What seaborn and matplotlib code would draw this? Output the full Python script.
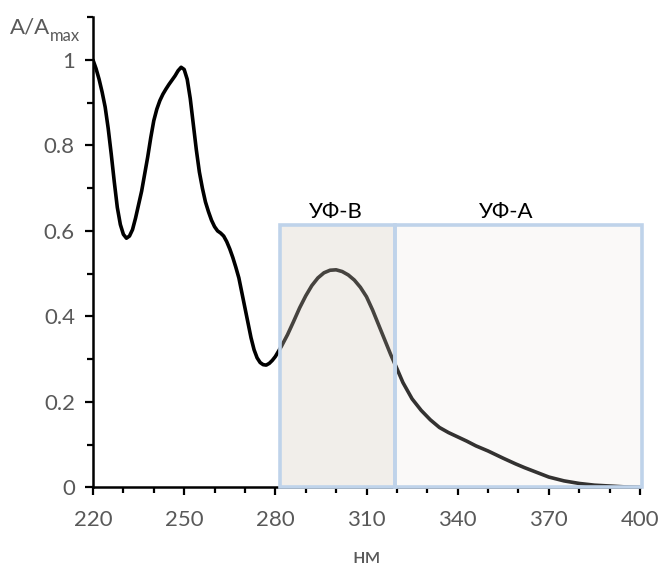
import numpy as np
import pandas as pd
import matplotlib
matplotlib.use("Agg")
import matplotlib.pyplot as plt
import seaborn as sns
from matplotlib.patches import Rectangle

# ---- data ----
wavelength = [220, 221, 222, 223, 224, 225, 226, 227, 228, 229, 230, 231, 232, 233, 234,
              236, 238, 239, 240, 241, 242, 243, 244, 245, 246, 247, 248, 249, 250, 251,
              252, 253, 254, 255, 256, 257, 258, 259, 260, 261, 262, 263, 264, 265, 266,
              267, 268, 269, 270, 271, 272, 273, 274, 275, 276, 277, 278, 279, 280, 282,
              284, 286, 288, 290, 292, 294, 296, 298, 300, 302, 304, 306, 308, 310, 312,
              314, 316, 318, 320, 322, 325, 328, 331, 334, 337, 340, 343, 346, 350, 355,
              359, 362, 366, 370, 375, 380, 385, 390, 395, 400]
absorbance = [1.0, 0.98, 0.955, 0.925, 0.89, 0.84, 0.78, 0.715, 0.655, 0.615, 0.592, 0.583,
              0.588, 0.603, 0.63, 0.693, 0.773, 0.818, 0.858, 0.885, 0.905, 0.92, 0.932,
              0.943, 0.953, 0.963, 0.975, 0.983, 0.978, 0.955, 0.91, 0.85, 0.79, 0.738,
              0.70, 0.668, 0.645, 0.625, 0.61, 0.60, 0.595, 0.588, 0.575, 0.558, 0.538,
              0.515, 0.49, 0.455, 0.42, 0.385, 0.35, 0.322, 0.303, 0.292, 0.287, 0.286,
              0.29, 0.297, 0.306, 0.33, 0.357, 0.388, 0.42, 0.448, 0.472, 0.49, 0.502,
              0.508, 0.509, 0.505, 0.497, 0.485, 0.468, 0.446, 0.415, 0.38, 0.345, 0.31,
              0.278, 0.245, 0.207, 0.18, 0.158, 0.14, 0.128, 0.118, 0.108, 0.097, 0.085,
              0.068, 0.055, 0.046, 0.035, 0.024, 0.015, 0.009, 0.005, 0.003, 0.001, 0.0]

band_names = ["УФ-В", "УФ-А"]
band_start = [281.5, 319.5]
band_end = [319.5, 400.5]
band_top = 0.614
band_label_x = [300, 356]

x_ticks = [220, 250, 280, 310, 340, 370, 400]
y_ticks = [0, 0.2, 0.4, 0.6, 0.8, 1.0]
y_tick_labels = ["0", "0.2", "0.4", "0.6", "0.8", "1"]
x_label = "нм"
y_label_main = "A/A"
y_label_sub = "max"

# ---- style ----
sns.set_style("ticks")
plt.rcParams["font.family"] = ["Lato", "DejaVu Sans"]

fig = plt.figure(figsize=(6.62, 5.67), dpi=100)
ax = fig.add_axes([93/662, 1-487.3/567, (640-93)/662, (487.3-17.3)/567])

df = pd.DataFrame({"wl": wavelength, "a": absorbance})
sns.lineplot(data=df, x="wl", y="a", ax=ax, color="black", linewidth=2.6, zorder=2)

band_fill = ["#d6cdc2", "#ebe6e2"]
band_alpha = [0.33, 0.22]
for s, e, fc, al in zip(band_start, band_end, band_fill, band_alpha):
    ax.add_patch(Rectangle((s, 0), e - s, band_top, facecolor=fc, alpha=al,
                           edgecolor="none", zorder=3, clip_on=False))
    ax.add_patch(Rectangle((s, 0), e - s, band_top, facecolor="none",
                           edgecolor="#bfd3ea", linewidth=2.6, zorder=3.5,
                           clip_on=False))

for name, lx in zip(band_names, band_label_x):
    ax.text(lx, band_top + 0.006, name, ha="center", va="bottom",
            fontsize=16, color="black")

ax.set_xlim(220, 400)
ax.set_ylim(0, 1.1)
ax.set_xticks(x_ticks)
ax.set_xticklabels([str(t) for t in x_ticks])
ax.set_xticks(np.arange(220, 401, 10), minor=True)
ax.set_yticks(y_ticks)
ax.set_yticklabels(y_tick_labels)
ax.set_yticks(np.arange(0, 1.11, 0.1), minor=True)

ax.tick_params(axis="both", which="major", length=6, width=1.6, color="black",
               labelsize=16, labelcolor="#595959", pad=7)
ax.tick_params(axis="both", which="minor", length=4, width=1.6, color="black")
ax.tick_params(axis="x", which="major", pad=10)
for sp in ["top", "right"]:
    ax.spines[sp].set_visible(False)
for sp in ["left", "bottom"]:
    ax.spines[sp].set_linewidth(1.8)
    ax.spines[sp].set_color("black")

ax.set_xlabel("")
ax.set_ylabel("")
fig.text(367/662, 1-557/567, x_label, ha="center", va="center", fontsize=16,
         color="#595959")
fig.text(50/662, 1-28/567, y_label_main, ha="right", va="center", fontsize=16,
         color="#595959")
fig.text(50/662, 1-36/567, y_label_sub, ha="left", va="center", fontsize=12,
         color="#595959")

fig.savefig("out.png", dpi=100)
